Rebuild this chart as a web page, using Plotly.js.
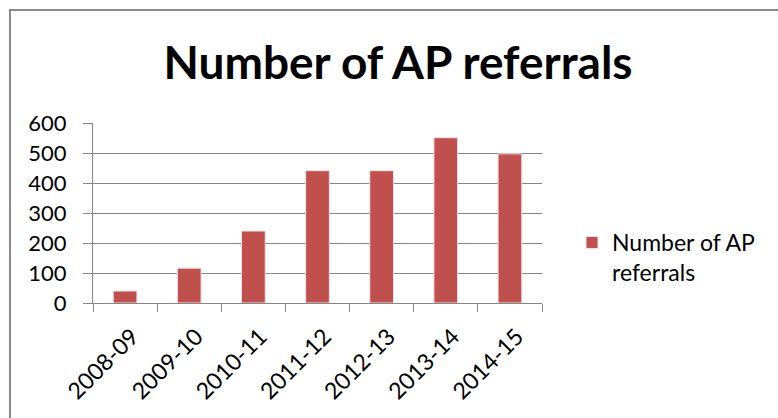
<!DOCTYPE html>
<html>
<head>
<meta charset="utf-8">
<script src="https://cdn.plot.ly/plotly-3.0.1.min.js"></script>
<style>html,body{margin:0;padding:0;background:#fff;}#chart{width:778px;height:418px;}</style>
</head>
<body>
<div id="chart"></div>
<script>
const categories = ["2008-09", "2009-10", "2010-11", "2011-12", "2012-13", "2013-14", "2014-15"];
const referrals = [40, 116, 240, 441, 441, 551, 497];
const seriesName = "Number of AP<br>referrals";
const yTicks = [0, 100, 200, 300, 400, 500, 600];

const FONT = "Lato, 'Open Sans', 'DejaVu Sans', sans-serif";
const L = 93, R = 236, T = 123, B = 115, W = 778, H = 418;
const pw = W - L - R, ph = H - T - B;
const px = v => (v - L) / pw;
const py = v => (H - B - v) / ph;

const trace = {
  type: "bar",
  x: categories,
  y: referrals,
  name: seriesName,
  marker: { color: "#C0504D", line: { color: "#f3e3e3", width: 1 } },
  showlegend: true,
  hoverinfo: "x+y"
};

const layout = {
  width: W, height: H,
  margin: { l: L, r: R, t: T, b: B },
  paper_bgcolor: "#fff",
  plot_bgcolor: "#fff",
  font: { family: FONT, size: 22, color: "#000" },
  title: {
    text: "<b>Number of AP referrals</b>",
    font: { family: FONT, size: 46, color: "#000" },
    xref: "container", yref: "container",
    x: 398 / W, y: 1 - 63 / H, xanchor: "center", yanchor: "middle"
  },
  bargap: 0.63,
  xaxis: {
    type: "category",
    tickangle: -45,
    tickson: "boundaries",
    ticks: "outside",
    ticklen: 8,
    tickcolor: "#868686",
    showline: true,
    linecolor: "#868686",
    linewidth: 1,
    showgrid: false,
    ticklabelstandoff: 10,
    ticklabelshift: 7,
    tickfont: { family: FONT, size: 23, color: "#000" }
  },
  yaxis: {
    range: [0, 600],
    tickvals: yTicks,
    ticktext: yTicks.map(String),
    ticks: "outside",
    ticklen: 9,
    tickcolor: "#868686",
    showline: true,
    linecolor: "#868686",
    gridcolor: "#868686",
    gridwidth: 1,
    zeroline: false,
    ticklabelstandoff: 12,
    tickfont: { family: FONT, size: 22, color: "#000" }
  },
  legend: {
    x: px(572), y: py(221), xanchor: "left", yanchor: "top",
    valign: "top",
    font: { family: FONT, size: 23, color: "#000" },
    bgcolor: "rgba(0,0,0,0)",
    itemwidth: 30
  },
  shapes: [{
    type: "rect", xref: "paper", yref: "paper",
    x0: px(10), x1: px(800), y0: py(440), y1: py(10),
    line: { color: "#8a8a8a", width: 2 }, fillcolor: "rgba(0,0,0,0)", layer: "below"
  }]
};

Plotly.newPlot("chart", [trace], layout, { displayModeBar: false, staticPlot: true });
</script>
</body>
</html>
